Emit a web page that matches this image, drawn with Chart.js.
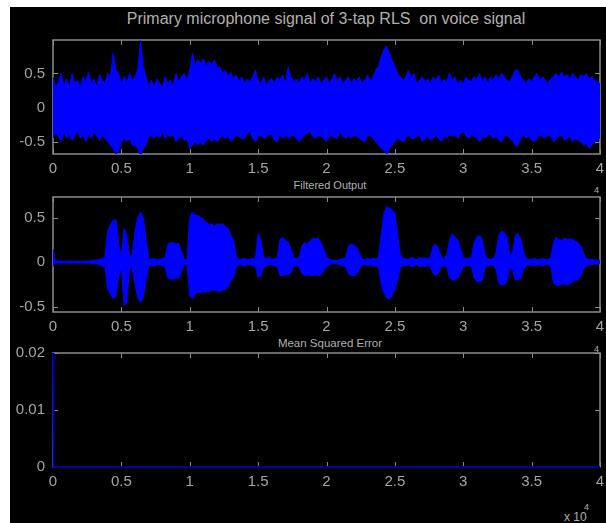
<!DOCTYPE html>
<html>
<head>
<meta charset="utf-8">
<script src="https://cdn.jsdelivr.net/npm/chart.js@4"></script>
<style>
  body { margin: 0; background: #fff; width: 606px; height: 523px; overflow: hidden; }
  #fig { position: absolute; left: 10px; top: 7px; width: 596px; height: 516px; background: #000; }
  canvas { position: absolute; left: 0; }
  .txt { position: absolute; color: #b0b0b0; font-family: "Liberation Sans", Arial, sans-serif; white-space: pre; line-height: 1; }
</style>
</head>
<body>
<div id="fig"></div>
<div class="txt" style="left:0;width:652px;text-align:center;top:11px;font-size:16px">Primary microphone signal of 3-tap RLS  on voice signal</div>
<div class="txt" style="left:0;width:660px;text-align:center;top:180px;font-size:11px">Filtered Output</div>
<div class="txt" style="left:0;width:660px;text-align:center;top:338px;font-size:11.5px">Mean Squared Error</div>
<div class="txt" style="left:594px;top:186px;font-size:9px">4</div>
<div class="txt" style="left:594px;top:345px;font-size:9px">4</div>
<div class="txt" style="left:564px;top:511px;font-size:12px">x 10</div>
<div class="txt" style="left:584px;top:503px;font-size:9px">4</div>
<canvas id="c1" width="606" height="150" style="top:30px"></canvas>
<canvas id="c2" width="606" height="151" style="top:187px"></canvas>
<canvas id="c3" width="606" height="150" style="top:343px"></canvas>
<script>
// --- Data (x in units of 10^4 samples, envelope read every 0.02) ---
const STEP = 0.02;
const X_TICKS = [0, 0.5, 1, 1.5, 2, 2.5, 3, 3.5, 4];
const X_TICK_LABELS = ['0', '0.5', '1', '1.5', '2', '2.5', '3', '3.5', '4'];

// primary microphone signal: upper / lower envelope
const micUpper = [
  0.45, 0.3, 0.38, 0.5, 0.32, 0.42, 0.3, 0.5, 0.35, 0.4,
  0.3, 0.45, 0.38, 0.52, 0.35, 0.42, 0.3, 0.48, 0.4, 0.35,
  0.5, 0.45, 0.8, 0.55, 0.5, 0.35, 0.45, 0.38, 0.5, 0.4,
  0.45, 0.55, 0.98, 0.6, 0.45, 0.32, 0.4, 0.3, 0.42, 0.35,
  0.3, 0.45, 0.35, 0.4, 0.32, 0.5, 0.38, 0.45, 0.5, 0.4,
  0.55, 0.8, 0.6, 0.7, 0.65, 0.72, 0.6, 0.68, 0.62, 0.7,
  0.58, 0.6, 0.5, 0.55, 0.45, 0.52, 0.42, 0.48, 0.38, 0.45,
  0.35, 0.42, 0.38, 0.45, 0.55, 0.4, 0.35, 0.45, 0.32, 0.4,
  0.42, 0.35, 0.45, 0.4, 0.48, 0.35, 0.6, 0.45, 0.38, 0.42,
  0.35, 0.45, 0.4, 0.5, 0.35, 0.42, 0.38, 0.45, 0.35, 0.4,
  0.45, 0.35, 0.42, 0.5, 0.38, 0.45, 0.35, 0.4, 0.45, 0.35,
  0.42, 0.38, 0.45, 0.35, 0.4, 0.48, 0.38, 0.45, 0.55, 0.6,
  0.75, 0.85, 0.9, 0.8, 0.7, 0.6, 0.5, 0.45, 0.4, 0.45,
  0.55, 0.42, 0.5, 0.35, 0.4, 0.45, 0.38, 0.42, 0.35, 0.45,
  0.4, 0.48, 0.35, 0.42, 0.38, 0.5, 0.4, 0.45, 0.35, 0.4,
  0.35, 0.45, 0.4, 0.38, 0.45, 0.42, 0.5, 0.38, 0.45, 0.35,
  0.45, 0.4, 0.48, 0.42, 0.5, 0.45, 0.4, 0.38, 0.45, 0.55,
  0.55, 0.45, 0.4, 0.35, 0.42, 0.38, 0.45, 0.5, 0.4, 0.45,
  0.4, 0.35, 0.42, 0.45, 0.5, 0.45, 0.52, 0.45, 0.48, 0.42,
  0.5, 0.45, 0.4, 0.48, 0.45, 0.5, 0.42, 0.45, 0.4, 0.38, 0.35];
const micLower = [
  -0.45, -0.38, -0.42, -0.5, -0.35, -0.45, -0.4, -0.48, -0.4, -0.35,
  -0.45, -0.4, -0.5, -0.38, -0.45, -0.35, -0.42, -0.48, -0.4, -0.45,
  -0.5, -0.55, -0.6, -0.68, -0.65, -0.5, -0.45, -0.5, -0.45, -0.55,
  -0.55, -0.6, -0.72, -0.6, -0.55, -0.42, -0.4, -0.45, -0.4, -0.45,
  -0.35, -0.45, -0.4, -0.42, -0.4, -0.5, -0.45, -0.42, -0.48, -0.45,
  -0.6, -0.55, -0.5, -0.55, -0.5, -0.55, -0.48, -0.45, -0.5, -0.45,
  -0.5, -0.45, -0.4, -0.45, -0.42, -0.5, -0.45, -0.4, -0.42, -0.45,
  -0.45, -0.38, -0.35, -0.45, -0.5, -0.42, -0.4, -0.45, -0.42, -0.4,
  -0.4, -0.48, -0.5, -0.4, -0.45, -0.4, -0.45, -0.42, -0.4, -0.45,
  -0.5, -0.45, -0.4, -0.38, -0.35, -0.42, -0.45, -0.4, -0.42, -0.45,
  -0.5, -0.42, -0.4, -0.45, -0.45, -0.35, -0.42, -0.45, -0.4, -0.45,
  -0.4, -0.42, -0.45, -0.48, -0.5, -0.42, -0.4, -0.45, -0.5, -0.55,
  -0.6, -0.62, -0.68, -0.6, -0.55, -0.5, -0.45, -0.48, -0.5, -0.45,
  -0.4, -0.45, -0.45, -0.42, -0.4, -0.5, -0.45, -0.42, -0.48, -0.45,
  -0.4, -0.45, -0.5, -0.42, -0.45, -0.4, -0.42, -0.4, -0.45, -0.38,
  -0.35, -0.42, -0.45, -0.4, -0.42, -0.45, -0.5, -0.42, -0.45, -0.4,
  -0.4, -0.45, -0.42, -0.48, -0.5, -0.42, -0.4, -0.45, -0.48, -0.55,
  -0.55, -0.45, -0.4, -0.45, -0.42, -0.48, -0.5, -0.45, -0.4, -0.42,
  -0.45, -0.4, -0.42, -0.5, -0.45, -0.42, -0.4, -0.48, -0.45, -0.42,
  -0.5, -0.45, -0.48, -0.5, -0.55, -0.52, -0.6, -0.55, -0.5, -0.48, -0.45];

// filtered output: upper / lower envelope
const outUpper = [
  0.15, 0.01, 0.01, 0.012, 0.01, 0.01, 0.012, 0.01, 0.01, 0.012,
  0.01, 0.01, 0.012, 0.01, 0.015, 0.02, 0.02, 0.03, 0.04, 0.05,
  0.35, 0.42, 0.47, 0.48, 0.2, 0.06, 0.38, 0.3, 0.06, 0.08,
  0.35, 0.5, 0.56, 0.5, 0.25, 0.04, 0.03, 0.04, 0.03, 0.03,
  0.04, 0.05, 0.2, 0.22, 0.22, 0.2, 0.21, 0.12, 0.03, 0.03,
  0.5, 0.56, 0.53, 0.52, 0.5, 0.48, 0.45, 0.42, 0.43, 0.4,
  0.43, 0.42, 0.43, 0.4, 0.38, 0.3, 0.25, 0.06, 0.03, 0.03,
  0.04, 0.03, 0.03, 0.04, 0.04, 0.32, 0.25, 0.05, 0.04, 0.06,
  0.03, 0.04, 0.05, 0.25, 0.28, 0.24, 0.22, 0.15, 0.05, 0.04,
  0.05, 0.18, 0.22, 0.2, 0.24, 0.27, 0.26, 0.27, 0.22, 0.15,
  0.06, 0.03, 0.02, 0.02, 0.02, 0.03, 0.04, 0.05, 0.18, 0.2,
  0.19, 0.17, 0.1, 0.03, 0.03, 0.04, 0.03, 0.04, 0.04, 0.05,
  0.3, 0.55, 0.62, 0.61, 0.58, 0.55, 0.3, 0.08, 0.04, 0.04,
  0.03, 0.05, 0.04, 0.03, 0.05, 0.04, 0.05, 0.04, 0.06, 0.18,
  0.2, 0.15, 0.06, 0.04, 0.08, 0.25, 0.32, 0.28, 0.25, 0.15,
  0.05, 0.04, 0.04, 0.06, 0.22, 0.28, 0.3, 0.25, 0.08, 0.04,
  0.03, 0.04, 0.1, 0.3, 0.35, 0.33, 0.28, 0.08, 0.1, 0.3,
  0.32, 0.26, 0.12, 0.04, 0.03, 0.03, 0.04, 0.03, 0.03, 0.04,
  0.03, 0.03, 0.04, 0.22, 0.28, 0.25, 0.24, 0.27, 0.25, 0.26,
  0.25, 0.23, 0.22, 0.18, 0.1, 0.04, 0.03, 0.03, 0.02, 0.02, 0.02];
const outLower = [
  -0.05, -0.01, -0.01, -0.012, -0.01, -0.01, -0.012, -0.01, -0.01, -0.012,
  -0.01, -0.01, -0.012, -0.01, -0.015, -0.02, -0.02, -0.03, -0.04, -0.05,
  -0.3, -0.36, -0.41, -0.38, -0.15, -0.06, -0.49, -0.45, -0.06, -0.08,
  -0.25, -0.4, -0.45, -0.4, -0.2, -0.04, -0.03, -0.04, -0.03, -0.03,
  -0.04, -0.05, -0.18, -0.19, -0.19, -0.18, -0.18, -0.1, -0.03, -0.03,
  -0.38, -0.41, -0.36, -0.34, -0.34, -0.33, -0.34, -0.33, -0.32, -0.31,
  -0.32, -0.33, -0.32, -0.3, -0.28, -0.2, -0.18, -0.05, -0.03, -0.03,
  -0.04, -0.03, -0.03, -0.04, -0.04, -0.17, -0.15, -0.05, -0.04, -0.03,
  -0.03, -0.04, -0.05, -0.15, -0.15, -0.14, -0.14, -0.12, -0.05, -0.04,
  -0.05, -0.13, -0.15, -0.14, -0.15, -0.15, -0.14, -0.15, -0.14, -0.1,
  -0.05, -0.03, -0.02, -0.02, -0.02, -0.03, -0.04, -0.05, -0.13, -0.15,
  -0.15, -0.14, -0.08, -0.03, -0.03, -0.04, -0.03, -0.04, -0.04, -0.05,
  -0.25, -0.35, -0.4, -0.41, -0.38, -0.3, -0.2, -0.06, -0.04, -0.04,
  -0.03, -0.05, -0.04, -0.03, -0.05, -0.04, -0.05, -0.04, -0.05, -0.13,
  -0.15, -0.12, -0.05, -0.04, -0.06, -0.18, -0.2, -0.2, -0.18, -0.12,
  -0.05, -0.04, -0.04, -0.05, -0.18, -0.22, -0.22, -0.2, -0.06, -0.04,
  -0.03, -0.04, -0.08, -0.24, -0.26, -0.25, -0.22, -0.06, -0.08, -0.2,
  -0.2, -0.18, -0.08, -0.04, -0.03, -0.03, -0.04, -0.03, -0.03, -0.04,
  -0.03, -0.03, -0.04, -0.24, -0.26, -0.26, -0.25, -0.24, -0.26, -0.24,
  -0.22, -0.2, -0.2, -0.15, -0.08, -0.04, -0.03, -0.03, -0.02, -0.02, -0.02];

// mean squared error
const mseX = [0, 0.004, 4];
const mseY = [0.02, 0, 0];

const SIG_Y_TICKS = [-0.5, 0, 0.5];
const SIG_Y_LABELS = ['-0.5', '0', '0.5'];
const MSE_Y_TICKS = [0, 0.01, 0.02];
const MSE_Y_LABELS = ['0', '0.01', '0.02'];

// --- Style ---
const LABEL_COLOR = '#a4a4a4';
const BOX_COLOR = '#8c8c8c';
const FONT = { family: '"Liberation Sans", Arial, sans-serif', size: 15 };

const toPoints = (arr) => arr.map((v, i) => ({ x: i * STEP, y: v }));

// MATLAB-like box with inward ticks on all four sides
const framePlugin = {
  id: 'frame',
  beforeDatasetsDraw(chart) {
    const { ctx, chartArea: a, scales } = chart;
    ctx.save();
    ctx.strokeStyle = BOX_COLOR;
    ctx.lineWidth = 1.5;
    ctx.strokeRect(a.left, a.top, a.right - a.left, a.bottom - a.top);
    ctx.beginPath();
    scales.x.ticks.forEach((t) => {
      const px = Math.round(scales.x.getPixelForValue(t.value)) + 0.5;
      ctx.moveTo(px, a.bottom); ctx.lineTo(px, a.bottom - 5);
      ctx.moveTo(px, a.top); ctx.lineTo(px, a.top + 5);
    });
    scales.y.ticks.forEach((t) => {
      const py = Math.round(scales.y.getPixelForValue(t.value)) + 0.5;
      ctx.moveTo(a.left, py); ctx.lineTo(a.left + 5, py);
      ctx.moveTo(a.right, py); ctx.lineTo(a.right - 5, py);
    });
    ctx.lineWidth = 1;
    ctx.stroke();
    ctx.restore();
  },
};

function makeChart(id, datasets, yMin, yMax, yTicks, yLabels) {
  return new Chart(document.getElementById(id), {
    type: 'line',
    data: { datasets },
    options: {
      responsive: false,
      animation: false,
      devicePixelRatio: 1,
      layout: { padding: { top: 10, right: 6, left: 0, bottom: 0 } },
      plugins: { legend: { display: false }, tooltip: { enabled: false } },
      elements: { point: { radius: 0 }, line: { tension: 0 } },
      scales: {
        x: {
          type: 'linear',
          min: 0,
          max: 4,
          grid: { display: false, drawTicks: false },
          border: { display: false },
          afterBuildTicks: (s) => { s.ticks = X_TICKS.map((v) => ({ value: v })); },
          afterFit: (s) => { s.height = 26; s.paddingLeft = 0; s.paddingRight = 0; },
          ticks: {
            color: LABEL_COLOR,
            font: FONT,
            padding: 6,
            maxRotation: 0,
            autoSkip: false,
            callback: (v) => X_TICK_LABELS[X_TICKS.indexOf(v)],
          },
        },
        y: {
          min: yMin,
          max: yMax,
          grid: { display: false, drawTicks: false },
          border: { display: false },
          afterBuildTicks: (s) => { s.ticks = yTicks.map((v) => ({ value: v })); },
          afterFit: (s) => { s.width = 53; s.paddingTop = 0; s.paddingBottom = 0; },
          ticks: {
            color: LABEL_COLOR,
            font: FONT,
            padding: 8,
            autoSkip: false,
            callback: (v) => yLabels[yTicks.indexOf(v)],
          },
        },
      },
    },
    plugins: [framePlugin],
  });
}

function envelope(upper, lower) {
  return [
    { data: toPoints(upper), borderColor: '#0000ff', backgroundColor: '#0000ff', borderWidth: 1, fill: '+1' },
    { data: toPoints(lower), borderColor: '#0000ff', backgroundColor: '#0000ff', borderWidth: 1, fill: false },
  ];
}

makeChart('c1', envelope(micUpper, micLower), -0.68, 0.99, SIG_Y_TICKS, SIG_Y_LABELS);
makeChart('c2', envelope(outUpper, outLower), -0.56, 0.73, SIG_Y_TICKS, SIG_Y_LABELS);
makeChart('c3', [
  {
    data: mseX.map((x, i) => ({ x, y: mseY[i] })),
    borderColor: '#0000a8',
    borderWidth: 2,
    fill: false,
    clip: false,
  },
], 0, 0.02, MSE_Y_TICKS, MSE_Y_LABELS);
</script>
</body>
</html>
